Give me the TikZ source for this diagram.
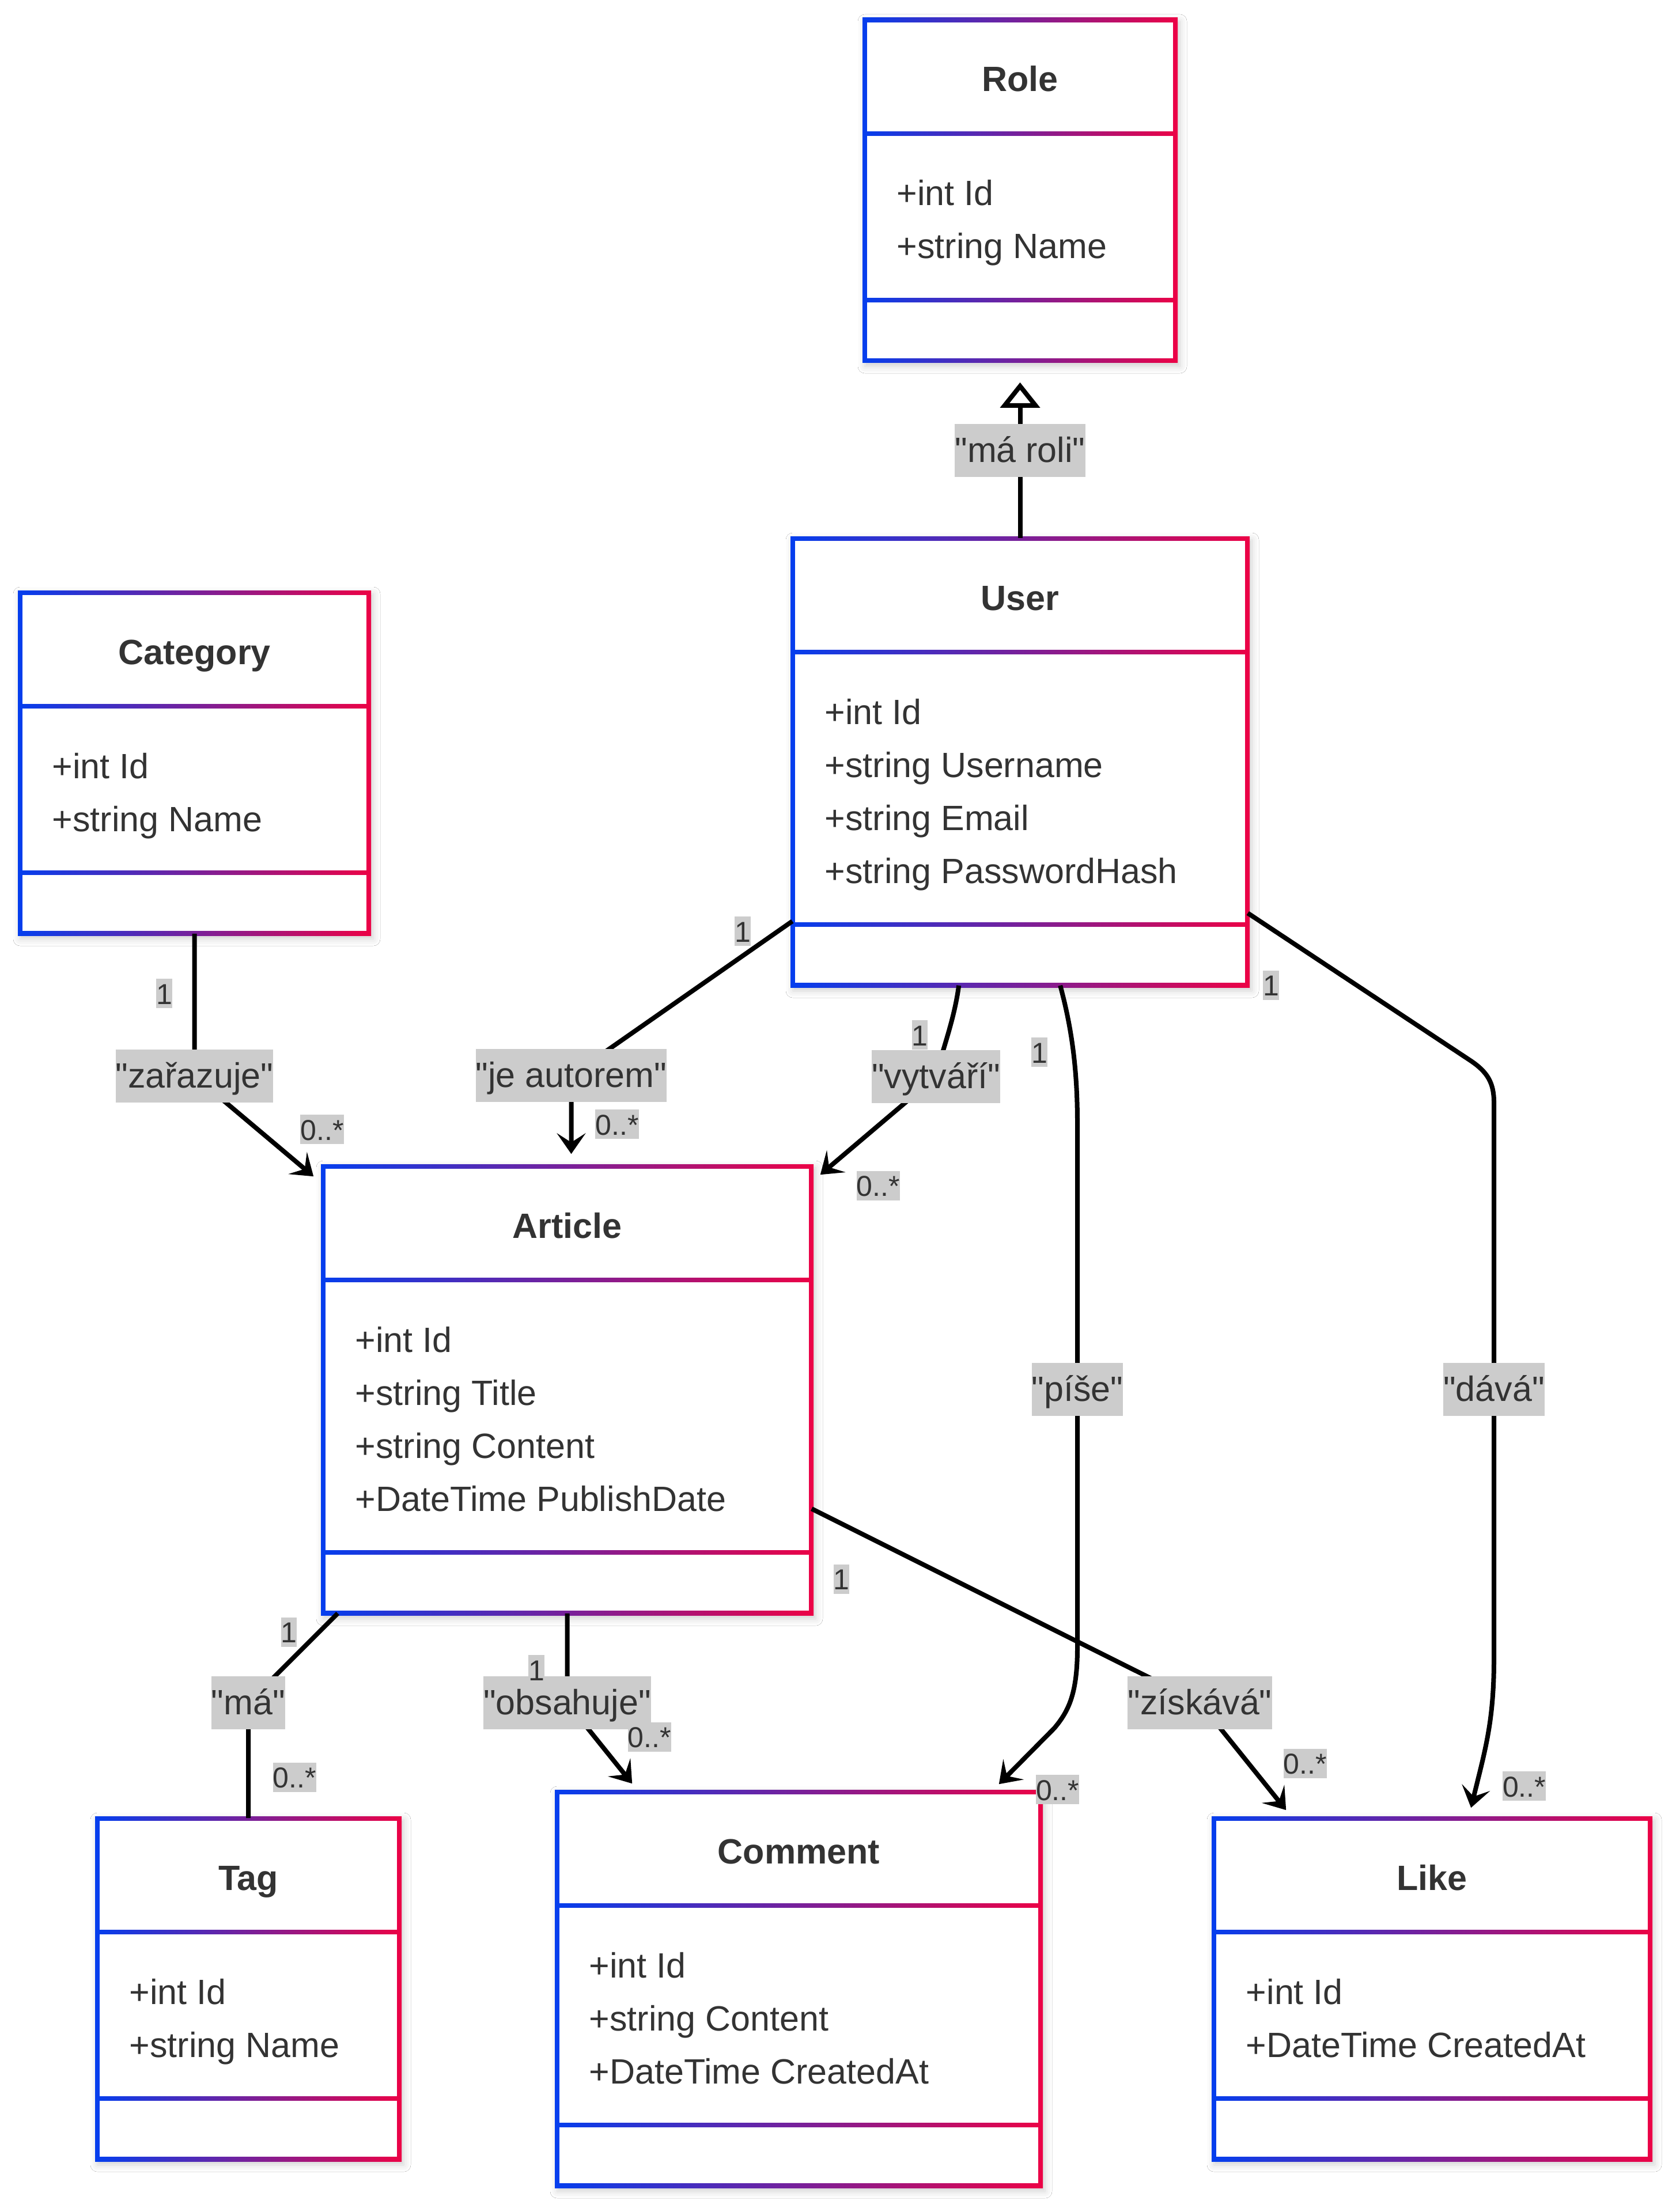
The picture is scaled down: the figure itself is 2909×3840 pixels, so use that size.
\documentclass[tikz,border=0pt]{standalone}
\usepackage{fontspec}
\setmainfont{Liberation Sans}[Ligatures=TeXOff]
\usetikzlibrary{arrows.meta,calc,fit,shadows.blur}

\definecolor{umlblue}{RGB}{4,62,238}
\definecolor{umlred}{RGB}{236,2,70}
\definecolor{ink}{RGB}{51,51,51}
\definecolor{tagbg}{RGB}{204,204,204}

\tikzset{
  classtitle/.style={font=\fontsize{15.25pt}{18pt}\selectfont\bfseries, text=ink, inner sep=0pt},
  classattr/.style={font=\fontsize{15.25pt}{18pt}\selectfont, text=ink, inner sep=0pt},
  edgelabel/.style={font=\fontsize{15.25pt}{18pt}\selectfont, text=ink, fill=tagbg,
    inner xsep=0pt, inner ysep=0pt, text height=16.5pt, text depth=6.5pt},
  mult/.style={font=\fontsize{12.5pt}{15pt}\selectfont, text=ink, fill=tagbg,
    inner xsep=0pt, inner ysep=0pt, text height=11pt, text depth=1.75pt},
  link/.style={draw=black, line width=2pt},
  assoc/.style={link, -{Stealth[length=9pt,width=12.5pt,inset=4pt]}},
  realize/.style={link, -{Triangle[open,length=11pt,width=17pt]}},
  boxshadow/.style={blur shadow={shadow xshift=1pt,shadow yshift=-1.5pt,
    shadow blur radius=3pt,shadow opacity=18}},
}

% UML class box: #1 name, #2 left, #3 right, #4 top, #5 attribute count,
% #6 class name, #7 attributes (comma separated)
\newcommand\umlclass[7]{%
  \pgfmathsetmacro\ych{#4+197}%
  \pgfmathsetmacro\ycm{\ych+105+92*#5}%
  \pgfmathsetmacro\ycb{\ycm+105}%
  \path[boxshadow, left color=umlblue, right color=umlred]
    (#2-4,#4-4) rectangle (#3+4,\ycb+4);
  \fill[white] (#2+4,#4+4) rectangle (#3-4,\ych-4);
  \fill[white] (#2+4,\ych+4) rectangle (#3-4,\ycm-4);
  \fill[white] (#2+4,\ycm+4) rectangle (#3-4,\ycb-4);
  \node[fit={(#2,#4) (#3,\ycb)}, inner sep=0pt] (#1) {};
  \node[classtitle, anchor=base] (#1-title) at ({(#2+#3)/2},#4+124) {#6};
  \foreach \attrtext [count=\k] in {#7}
    \node[classattr, anchor=base west] (#1-attr\k) at (#2+55,\ych+33+92*\k) {\attrtext};
}

\begin{document}
\begin{tikzpicture}[x=0.25pt, y=-0.25pt]
\fill[white] (0,0) rectangle (2909,3840);
\useasboundingbox (0,0) rectangle (2909,3840);

% classes
\umlclass{role}{1501}{2040}{35}{2}{Role}{+int Id,+string Name}
\umlclass{user}{1376}{2165}{935}{4}{User}{+int Id,+string Username,+string Email,+string PasswordHash}
\umlclass{category}{35}{640}{1029}{2}{Category}{+int Id,+string Name}
\umlclass{article}{561}{1408}{2025}{4}{Article}{+int Id,+string Title,+string Content,+DateTime PublishDate}
\umlclass{tag}{169}{693}{3157}{2}{Tag}{+int Id,+string Name}
\umlclass{comment}{967}{1806}{3111}{3}{Comment}{+int Id,+string Content,+DateTime CreatedAt}
\umlclass{like}{2107}{2864}{3157}{2}{Like}{+int Id,+DateTime CreatedAt}

% label positions on the connectors
\coordinate (l-role) at (1770.5,782);
\coordinate (l-cat) at (337.5,1868);
\coordinate (l-auth) at (991.5,1867);
\coordinate (l-creates) at (1624.5,1869);
\coordinate (l-writes) at (1870,2412);
\coordinate (l-gives) at (2593,2412);
\coordinate (l-gets) at (2082.5,2956);
\coordinate (l-tag) at (431,2956);
\coordinate (l-contains) at (984.5,2956);

% connectors
\draw[realize, shorten >=9.25pt] (user.north) -- (l-role) -- (role.south);
\draw[assoc] (category.south) -- (l-cat) -- ($(article.north west)+(-16,18)$);
\draw[assoc] ($(user.north west)+(0,665)$) -- (l-auth) -- ($(l-auth |- article.north)+(0,-21)$);
\draw[assoc] ($(user.south west)+(289,0)$) .. controls +(-8,60) and +(12,-50) .. (l-creates)
  -- ($(article.north east)+(15,15)$);
\draw[assoc] ($(user.south west)+(465,0)$) .. controls +(21,78) and +(0,-90) .. (1870,1950)
  -- (l-writes) -- (1870,2860) .. controls +(0,80) and +(25,-30) .. (1830,3000)
  -- ($(comment.north east)+(-73,-13)$);
\draw[assoc] ($(user.north east)+(0,651)$) -- (2552,1841) .. controls +(30,20) and +(0,-34) .. (2593,1914)
  -- (l-gives) -- (2593,2880) .. controls +(0,110) and +(24,-99) .. ($(like.north west)+(447,-18)$);
\draw[assoc] ($(article.north east)+(0,595)$) -- (l-gets) -- ($(like.north west)+(126,-14)$);
\draw[link] ($(article.south west)+(26,0)$) -- (l-tag) -- (tag.north);
\draw[assoc] (article.south) -- (l-contains) -- ($(comment.north west)+(131,-14)$);

% relation names
\node[edgelabel] (t-role) at (l-role) {"má roli"};
\node[edgelabel] (t-cat) at (l-cat) {"zařazuje"};
\node[edgelabel] (t-auth) at (l-auth) {"je autorem"};
\node[edgelabel] (t-creates) at (l-creates) {"vytváří"};
\node[edgelabel] (t-writes) at (l-writes) {"píše"};
\node[edgelabel] (t-gives) at (l-gives) {"dává"};
\node[edgelabel] (t-gets) at (l-gets) {"získává"};
\node[edgelabel] (t-tag) at (l-tag) {"má"};
\node[edgelabel] (t-contains) at (l-contains) {"obsahuje"};

% multiplicities
\node[mult] (m-cat-1) at (285,1724.5) {1};
\node[mult] (m-cat-n) at (559,1960.5) {0..*};
\node[mult] (m-auth-1) at (1289,1616.5) {1};
\node[mult] (m-auth-n) at (1071,1951.5) {0..*};
\node[mult] (m-creates-1) at (1596.5,1796.5) {1};
\node[mult] (m-creates-n) at (1524,2058) {0..*};
\node[mult] (m-writes-1) at (1804,1826.5) {1};
\node[mult] (m-writes-n) at (1835.5,3106.5) {0..*};
\node[mult] (m-gives-1) at (2206,1710) {1};
\node[mult] (m-gives-n) at (2645.5,3100.5) {0..*};
\node[mult] (m-gets-1) at (1460.5,2741) {1};
\node[mult] (m-gets-n) at (2265,3061) {0..*};
\node[mult] (m-tag-1) at (501.5,2833) {1};
\node[mult] (m-tag-n) at (511.5,3085) {0..*};
\node[mult] (m-contains-1) at (931,2898.5) {1};
\node[mult] (m-contains-n) at (1127.5,3015) {0..*};
\end{tikzpicture}
\end{document}
